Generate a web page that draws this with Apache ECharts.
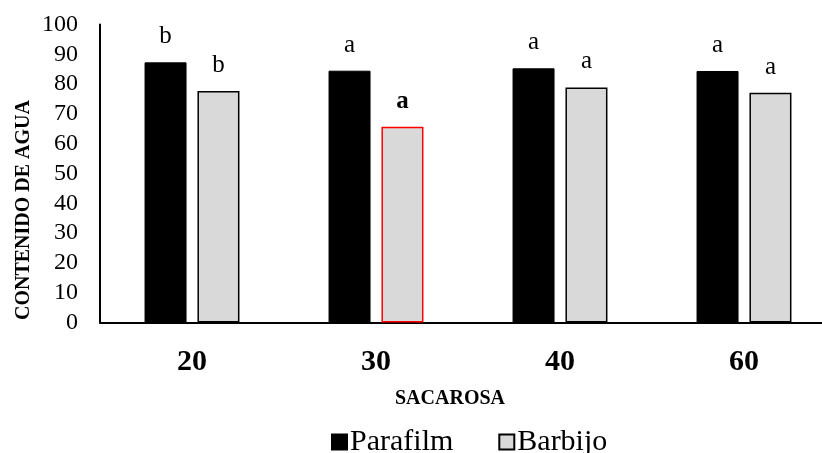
<!DOCTYPE html>
<html>
<head>
<meta charset="utf-8">
<script src="https://cdn.jsdelivr.net/npm/echarts@6/dist/echarts.min.js"></script>
<style>html,body{margin:0;padding:0;background:#fff;}#c{width:822px;height:453px;}</style>
</head>
<body>
<div id="c"></div>
<script>
const categories = ['20', '30', '40', '60'];
const parafilm = [87.3, 84.5, 85.3, 84.4];
const barbijo = [77.7, 65.7, 78.9, 77.1];
const parafilmLetters = ['b', 'a', 'a', 'a'];
const barbijoLetters = ['b', 'a', 'a', 'a'];
const yTicks = [0, 10, 20, 30, 40, 50, 60, 70, 80, 90, 100];

const FONT = '"Liberation Serif", "Times New Roman", serif';
const chart = echarts.init(document.getElementById('c'));

const labelStyle = {
  show: true, position: 'top', distance: 13,
  fontFamily: FONT, fontSize: 25, color: '#000'
};

chart.setOption({
  animation: false,
  grid: { left: 100, width: 736, top: 24.5, bottom: 130.5, outerBoundsMode: 'none', containLabel: false },
  xAxis: {
    type: 'category', data: categories,
    axisLine: { lineStyle: { color: '#000', width: 2 } },
    axisTick: { show: false },
    axisLabel: { fontFamily: FONT, fontSize: 30, fontWeight: 'bold', color: '#000', margin: 25 }
  },
  yAxis: {
    type: 'value', min: yTicks[0], max: yTicks[yTicks.length - 1], interval: 10,
    axisLine: { show: true, lineStyle: { color: '#000', width: 2 } },
    axisTick: { show: false },
    splitLine: { show: false },
    axisLabel: { fontFamily: FONT, fontSize: 24, color: '#000', margin: 22 }
  },
  legend: {
    left: 326, top: 422,
    itemWidth: 15, itemHeight: 15, itemGap: 45,
    icon: 'rect',
    textStyle: { fontFamily: FONT, fontSize: 30, color: '#000', padding: [0, 0, 0, -2] },
    data: ['Parafilm', 'Barbijo']
  },
  series: [
    {
      name: 'Parafilm', type: 'bar', barWidth: 42, barGap: '26%',
      itemStyle: { color: '#000', borderColor: '#000', borderWidth: 1 },
      label: Object.assign({}, labelStyle, {
        formatter: p => parafilmLetters[p.dataIndex]
      }),
      data: parafilm
    },
    {
      name: 'Barbijo', type: 'bar', barWidth: 42,
      itemStyle: { color: '#d9d9d9', borderColor: '#000', borderWidth: 1.5 },
      label: Object.assign({}, labelStyle, {
        formatter: p => barbijoLetters[p.dataIndex]
      }),
      data: barbijo.map((v, i) => i === 1 ? {
        value: v,
        itemStyle: { borderColor: '#ff0000', borderWidth: 1.5 },
        label: { fontWeight: 'bold' }
      } : v)
    }
  ],
  graphic: [
    {
      type: 'text', x: 24, y: 210, rotation: Math.PI / 2,
      style: {
        text: 'CONTENIDO DE AGUA', font: 'bold 20px ' + FONT,
        fill: '#000', textAlign: 'center', textVerticalAlign: 'middle'
      }
    },
    {
      type: 'text', x: 450, y: 399,
      style: {
        text: 'SACAROSA', font: 'bold 20px ' + FONT,
        fill: '#000', textAlign: 'center', textVerticalAlign: 'middle'
      }
    }
  ]
});
</script>
</body>
</html>
